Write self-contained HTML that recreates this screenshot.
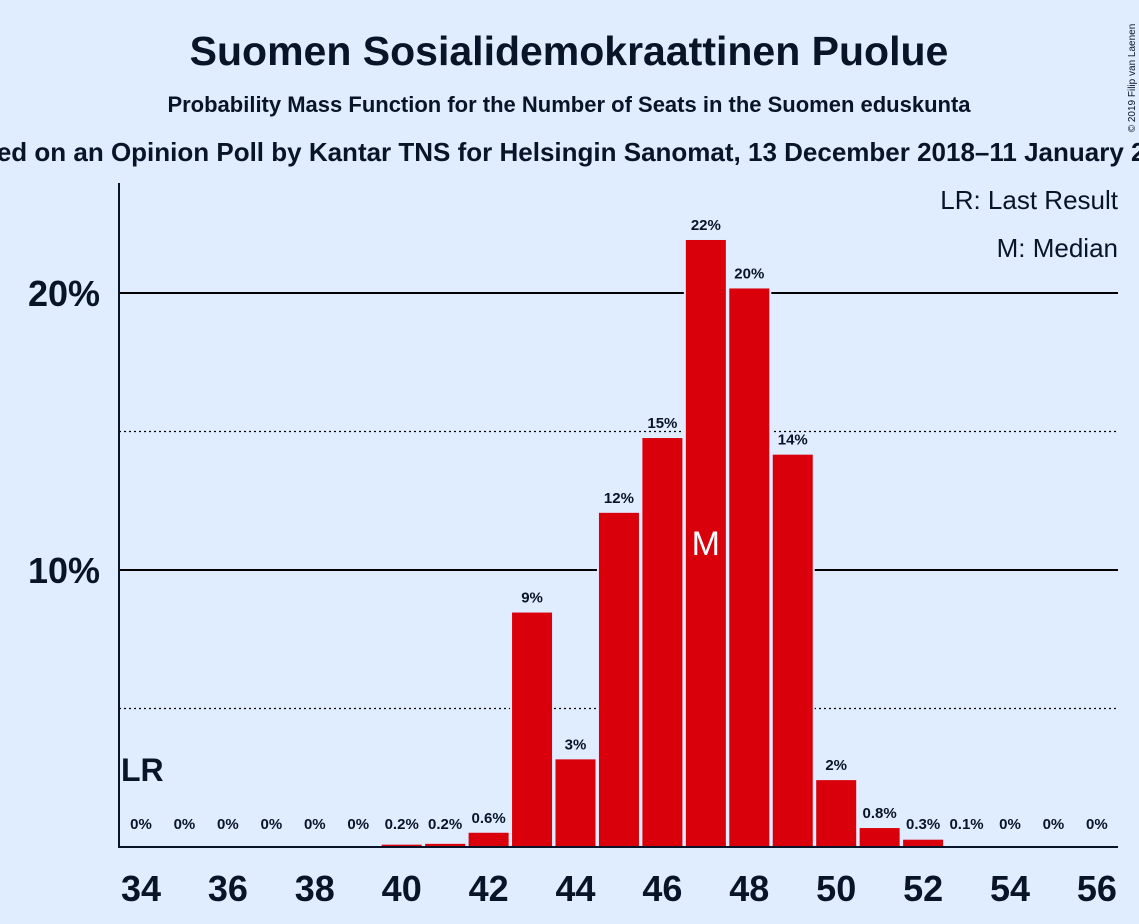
<!DOCTYPE html>
<html><head><meta charset="utf-8"><style>
body{margin:0;background:#e0ecff;}
svg{display:block;font-family:"Liberation Sans",sans-serif;}
</style></head><body>
<svg id="c" width="1139" height="924" viewBox="0 0 1139 924">
<rect width="1139" height="924" fill="#e0ecff"/>
<text x="569" y="65" text-anchor="middle" font-size="41" font-weight="bold" fill="#0a1428">Suomen Sosialidemokraattinen Puolue</text>
<text x="569" y="112" text-anchor="middle" font-size="22" font-weight="bold" fill="#0a1428">Probability Mass Function for the Number of Seats in the Suomen eduskunta</text>
<text x="569" y="161" text-anchor="middle" font-size="26" font-weight="bold" fill="#0a1428">Based on an Opinion Poll by Kantar TNS for Helsingin Sanomat, 13 December 2018–11 January 2019</text>
<text transform="translate(1135,78) rotate(-90)" text-anchor="middle" font-size="10" fill="#0a1428">© 2019 Filip van Laenen</text>
<g id="grid"></g>
<g id="bars"></g>
<line x1="119" y1="183" x2="119" y2="848" stroke="#0a1428" stroke-width="2"/>
<line x1="118" y1="847" x2="1118" y2="847" stroke="#0a1428" stroke-width="2"/>
<text x="1118" y="209" text-anchor="end" font-size="26" fill="#0a1428">LR: Last Result</text>
<text x="1118" y="257" text-anchor="end" font-size="26" fill="#0a1428">M: Median</text>
<text x="121" y="781" font-size="32" font-weight="bold" fill="#0a1428">LR</text>
</svg>
<script>
const seats=[34,35,36,37,38,39,40,41,42,43,44,45,46,47,48,49,50,51,52,53,54,55,56];
const probs=[0,0,0,0,0,0,0.12,0.15,0.55,8.5,3.2,12.1,14.8,21.95,20.2,14.2,2.45,0.72,0.3,0.05,0,0,0];
const labels=["0%","0%","0%","0%","0%","0%","0.2%","0.2%","0.6%","9%","3%","12%","15%","22%","20%","14%","2%","0.8%","0.3%","0.1%","0%","0%","0%"];
const yTicks=[5,10,15,20];
const median=47;
const ns="http://www.w3.org/2000/svg";
const x=s=>141+(s-34)*43.45;
const y=v=>847-v*27.7;
const grid=document.getElementById('grid'),bars=document.getElementById('bars');
function mk(tag,attrs,parent){const e=document.createElementNS(ns,tag);for(const k in attrs)e.setAttribute(k,attrs[k]);parent.appendChild(e);return e;}
yTicks.forEach(t=>{
  const major=t%10===0;
  const l=mk('line',{x1:119,x2:1118,y1:y(t),y2:y(t),stroke:'#000','stroke-width':major?2:1.3,'stroke-dasharray':major?'':'2,3'},grid);
  
  
  if(major){const tx=mk('text',{x:100,y:y(t)+13,'text-anchor':'end','font-size':36,'font-weight':'bold',fill:'#0a1428'},grid);tx.textContent=t+'%';
  
  }
});
seats.forEach((s,i)=>{
  const v=probs[i];
  if(v>0){const r=mk('rect',{x:x(s)-21,y:y(v),width:42,height:847-y(v),fill:'#d9000c',stroke:'#e0ecff','stroke-width':2},bars);
  
  }
  const t=mk('text',{x:x(s),y:Math.min(y(v)-9,829),'text-anchor':'middle','font-size':15,'font-weight':'bold',fill:'#0a1428'},bars);
  t.textContent=labels[i];
  
  
  if(s%2===0){const xt=mk('text',{x:x(s),y:901,'text-anchor':'middle','font-size':36,'font-weight':'bold',fill:'#0a1428'},bars);xt.textContent=s;
  
  }
  if(s===median){const m=mk('text',{x:x(s),y:y(v/2)+12,'text-anchor':'middle','font-size':34,fill:'#fff'},bars);m.textContent='M';
  
  }
});
</script>
</body></html>
